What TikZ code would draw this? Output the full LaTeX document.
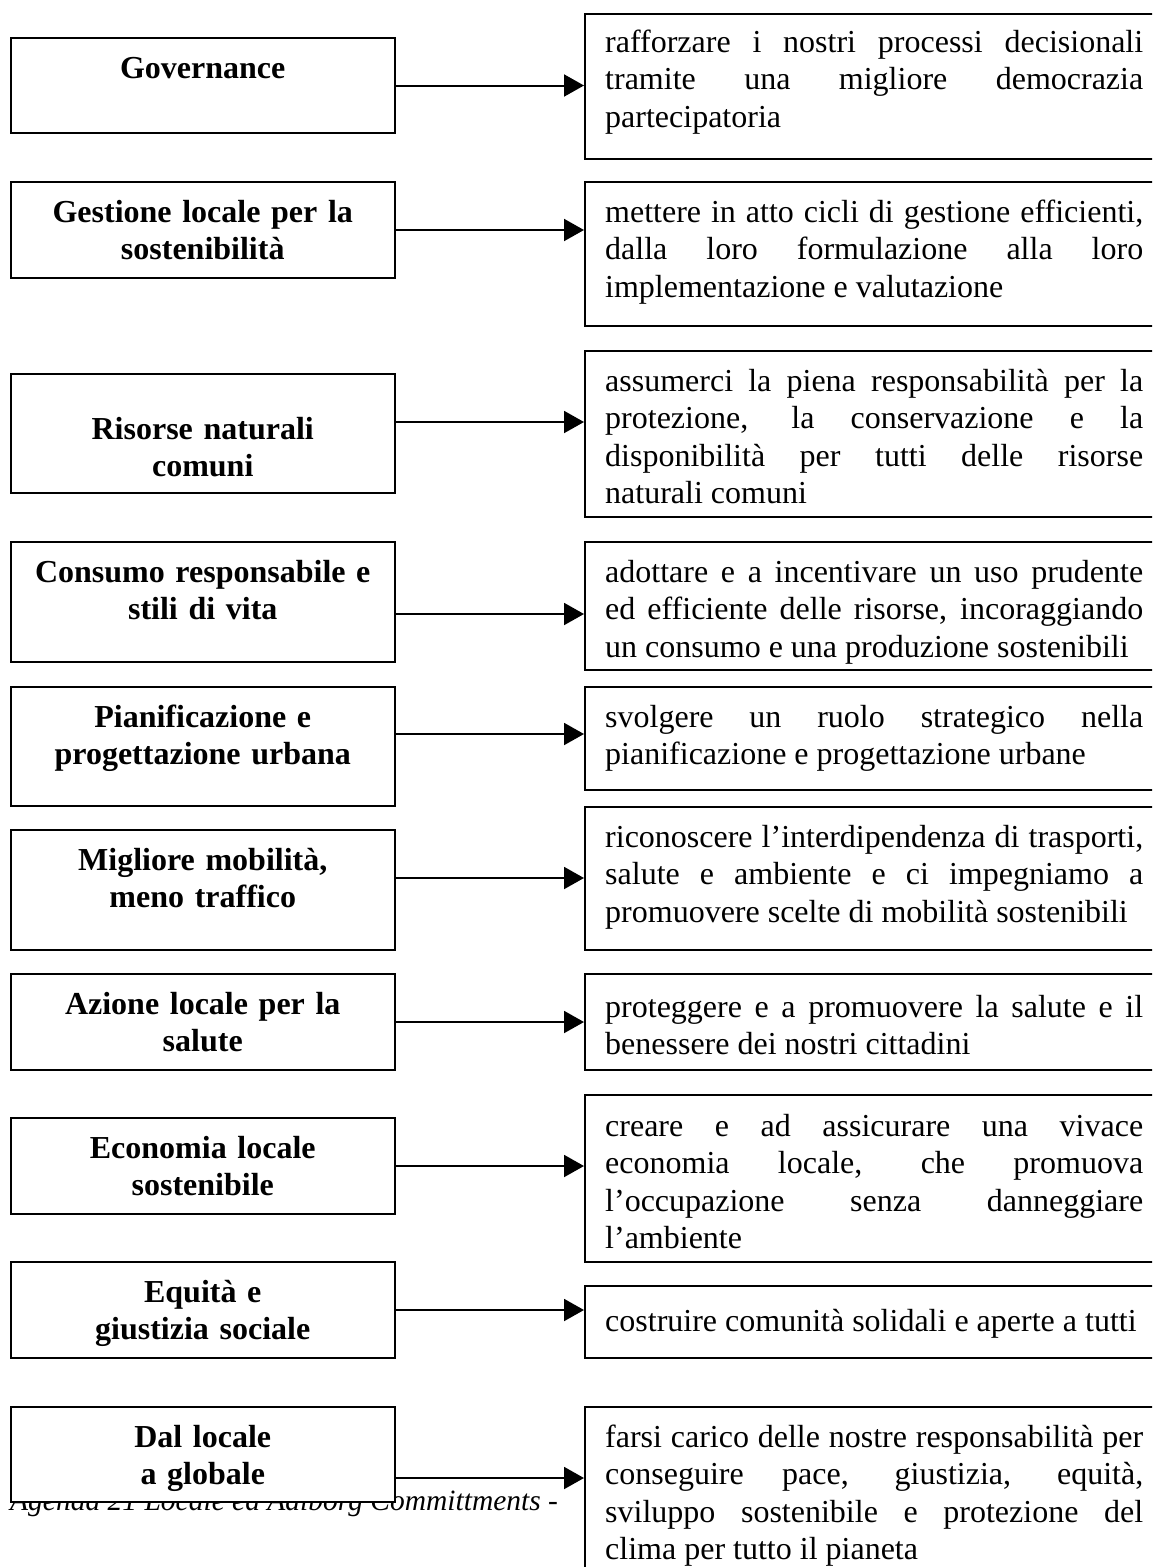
\documentclass[tikz,border=0pt]{standalone}
\usepackage{fontspec}
\setmainfont{Liberation Serif}
\usetikzlibrary{arrows.meta}
\tikzset{
  box/.style={draw, line width=2pt, fill=white, inner sep=0pt, rectangle},
  lbox/.style={box, minimum width=384.5pt},
  rbox/.style={box, minimum width=600pt},
  ltext/.style={anchor=base, text width=370pt, align=center, inner sep=0pt,
    font={\fontsize{32}{37.5}\selectfont\bfseries}},
  rtext/.style={anchor=base west, text width=538pt, align=justify, inner sep=0pt,
    font={\fontsize{32}{37.5}\selectfont}},
  conn/.style={line width=2pt, -{Triangle[length=20pt,width=22pt]}},
}
\begin{document}
\hyphenpenalty=10000 \exhyphenpenalty=10000 \tolerance=10000 \hbadness=10000
\begin{tikzpicture}[x=1pt, y=-1pt]
\clip (0,0) rectangle (1152,1567);
\fill[white] (0,0) rectangle (1152,1567);

% footer (partly hidden behind the last box)
\node[anchor=base west, inner sep=0pt, font={\fontsize{29.5}{30}\selectfont\itshape}] (foot) at (10,1510) {Agenda 21 Locale ed Aalborg Committments -};

% row 1
\node[lbox, minimum height=95pt] (lb1) at (202.75,85.5) {};
\node[rbox, minimum height=145pt] (rb1) at (885,86.5) {};
\node[ltext] (lt1) at ([yshift=-41pt]lb1.north) {Governance};
\node[rtext] (rt1) at ([xshift=21pt,yshift=-39pt]rb1.north west) {rafforzare i nostri processi decisionali\linebreak tramite una migliore democrazia\linebreak partecipatoria};
\draw[conn] (lb1.east) -- (lb1.east -| rb1.west);

% row 2
\node[lbox, minimum height=96pt] (lb2) at (202.75,230) {};
\node[rbox, minimum height=144pt] (rb2) at (885,254) {};
\node[ltext] (lt2) at ([yshift=-41pt]lb2.north) {Gestione locale per la\\ sostenibilità};
\node[rtext] (rt2) at ([xshift=21pt,yshift=-41pt]rb2.north west) {mettere in atto cicli di gestione efficienti,\linebreak dalla loro formulazione alla loro\linebreak implementazione e valutazione};
\draw[conn] (lb2.east) -- (lb2.east -| rb2.west);

% row 3
\node[lbox, minimum height=119pt] (lb3) at (202.75,433.5) {};
\node[rbox, minimum height=166pt] (rb3) at (885,434) {};
\node[ltext] (lt3) at ([yshift=-66pt]lb3.north) {Risorse naturali\\ comuni};
\node[rtext] (rt3) at ([xshift=21pt,yshift=-41pt]rb3.north west) {assumerci la piena responsabilità per la\linebreak protezione, la conservazione e la\linebreak disponibilità per tutti delle risorse\linebreak naturali comuni};
\draw[conn] ([yshift=11.5pt]lb3.east) coordinate (s3) -- (s3 -| rb3.west);

% row 4
\node[lbox, minimum height=120pt] (lb4) at (202.75,602) {};
\node[rbox, minimum height=128pt] (rb4) at (885,606) {};
\node[ltext] (lt4) at ([yshift=-41pt]lb4.north) {Consumo responsabile e\\ stili di vita};
\node[rtext] (rt4) at ([xshift=21pt,yshift=-41pt]rb4.north west) {adottare e a incentivare un uso prudente\linebreak ed efficiente delle risorse, incoraggiando\linebreak un consumo e una produzione sostenibili};
\draw[conn] ([yshift=-12pt]lb4.east) coordinate (s4) -- (s4 -| rb4.west);

% row 5
\node[lbox, minimum height=119pt] (lb5) at (202.75,746.5) {};
\node[rbox, minimum height=103pt] (rb5) at (885,738.5) {};
\node[ltext] (lt5) at ([yshift=-41pt]lb5.north) {Pianificazione e\\ progettazione urbana};
\node[rtext] (rt5) at ([xshift=21pt,yshift=-41pt]rb5.north west) {svolgere un ruolo strategico nella\linebreak pianificazione e progettazione urbane};
\draw[conn] ([yshift=12.5pt]lb5.east) coordinate (s5) -- (s5 -| rb5.west);

% row 6
\node[lbox, minimum height=120pt] (lb6) at (202.75,890) {};
\node[rbox, minimum height=143pt] (rb6) at (885,878.5) {};
\node[ltext] (lt6) at ([yshift=-41pt]lb6.north) {Migliore mobilità,\\ meno traffico};
\node[rtext] (rt6) at ([xshift=21pt,yshift=-41pt]rb6.north west) {riconoscere l’interdipendenza di trasporti,\linebreak salute e ambiente e ci impegniamo a\linebreak promuovere scelte di mobilità sostenibili};
\draw[conn] ([yshift=12pt]lb6.east) coordinate (s6) -- (s6 -| rb6.west);

% row 7
\node[lbox, minimum height=96pt] (lb7) at (202.75,1022) {};
\node[rbox, minimum height=96pt] (rb7) at (885,1022) {};
\node[ltext] (lt7) at ([yshift=-41pt]lb7.north) {Azione locale per la\\ salute};
\node[rtext] (rt7) at ([xshift=21pt,yshift=-44pt]rb7.north west) {proteggere e a promuovere la salute e il\linebreak benessere dei nostri cittadini};
\draw[conn] (lb7.east) -- (lb7.east -| rb7.west);

% row 8
\node[lbox, minimum height=96pt] (lb8) at (202.75,1166) {};
\node[rbox, minimum height=167pt] (rb8) at (885,1178.5) {};
\node[ltext] (lt8) at ([yshift=-41pt]lb8.north) {Economia locale\\ sostenibile};
\node[rtext] (rt8) at ([xshift=21pt,yshift=-42pt]rb8.north west) {creare e ad assicurare una vivace\linebreak economia locale, che promuova\linebreak l’occupazione senza danneggiare\linebreak l’ambiente};
\draw[conn] (lb8.east) -- (lb8.east -| rb8.west);

% row 9
\node[lbox, minimum height=96pt] (lb9) at (202.75,1310) {};
\node[rbox, minimum height=72pt] (rb9) at (885,1322) {};
\node[ltext] (lt9) at ([yshift=-41pt]lb9.north) {Equità e\\ giustizia sociale};
\node[rtext] (rt9) at ([xshift=21pt,yshift=-46pt]rb9.north west) {costruire comunità solidali e aperte a tutti};
\draw[conn] (lb9.east) -- (lb9.east -| rb9.west);

% row 10
\node[lbox, minimum height=95pt] (lb10) at (202.75,1454.5) {};
\node[rbox, minimum height=213pt] (rb10) at (885,1513.5) {};
\node[ltext] (lt10) at ([yshift=-41pt]lb10.north) {Dal locale\\ a globale};
\node[rtext] (rt10) at ([xshift=21pt,yshift=-41pt]rb10.north west) {farsi carico delle nostre responsabilità per\linebreak conseguire pace, giustizia, equità,\linebreak sviluppo sostenibile e protezione del\linebreak clima per tutto il pianeta};
\draw[conn] ([yshift=-23.5pt]lb10.east) coordinate (s10) -- (s10 -| rb10.west);
\end{tikzpicture}
\end{document}
